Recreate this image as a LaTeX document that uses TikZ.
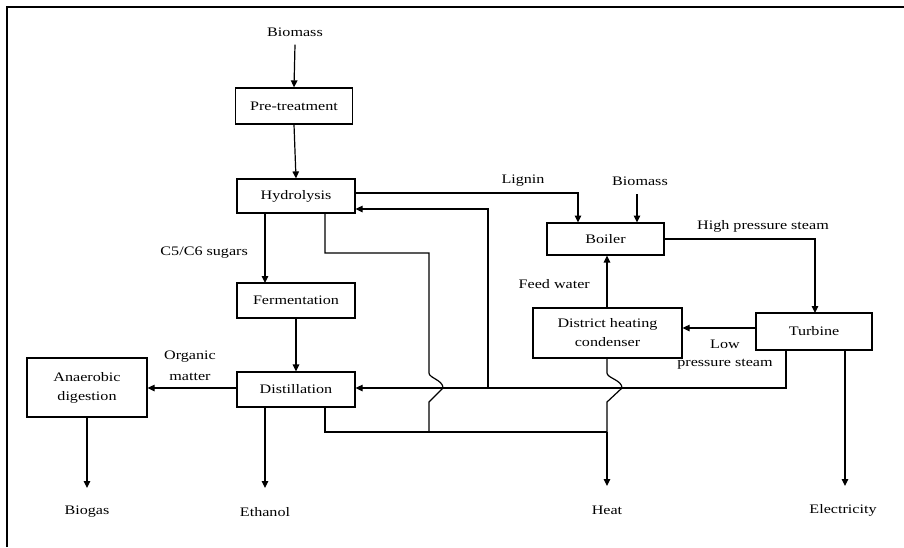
\documentclass[tikz,border=0pt]{standalone}
\usepackage{fontspec}
\usepackage{graphicx}
\setmainfont{Liberation Serif}
\newcommand{\sx}[1]{\scalebox{1.24}[1]{#1}}
\usetikzlibrary{arrows.meta}
\begin{document}
\begin{tikzpicture}[x=1pt,y=-1pt,
  box/.style={draw,line width=1.2pt,inner sep=0pt,align=center,font=\fontsize{13}{19}\selectfont},
  lbl/.style={inner sep=0pt,align=center,font=\fontsize{13}{19}\selectfont},
  flow/.style={line width=1.2pt},
  arr/.style={flow,-{Triangle[length=7pt,width=6.5pt]}}]
\useasboundingbox (0,0) rectangle (904,547);
\draw[line width=1.6pt] (7,547) -- (7,7) -- (904,7);
% nodes
\node[lbl] (bio1) at (295,32) {\sx{Biomass}};
\node[box,minimum width=117pt,minimum height=36pt] (pre) at (294,106) {\sx{Pre-treatment}};
\node[box,minimum width=118pt,minimum height=34pt] (hyd) at (296,196) {\sx{Hydrolysis}};
\node[box,minimum width=118pt,minimum height=35pt] (fer) at (296,300.5) {\sx{Fermentation}};
\node[box,minimum width=118pt,minimum height=35pt] (dis) at (296,389.5) {\sx{Distillation}};
\node[box,minimum width=120pt,minimum height=59pt] (ad) at (87,387.5) {\sx{Anaerobic}\\\sx{digestion}};
\node[box,minimum width=117pt,minimum height=32pt] (boil) at (605.5,239) {\sx{Boiler}};
\node[box,minimum width=116pt,minimum height=37pt] (turb) at (814,331.5) {\sx{Turbine}};
\node[box,minimum width=149pt,minimum height=50pt] (dhc) at (607.5,333) {\sx{District heating}\\\sx{condenser}};
\node[lbl] (bio2) at (640,181) {\sx{Biomass}};
\node[lbl] (biogas) at (87,512) {\sx{Biogas}};
\node[lbl] (eth) at (265,512) {\sx{Ethanol}};
\node[lbl] (heat) at (607,510) {\sx{Heat}};
\node[lbl] (elec) at (843,510) {\sx{Electricity}};
% labels
\node[lbl,anchor=east] (c56) at (248,253) {\sx{C5/C6 sugars}};
\node[lbl] (lig) at (523,181) {\sx{Lignin}};
\node[lbl] (hps) at (763,226) {\sx{High pressure steam}};
\node[lbl,anchor=east] (fw) at (590,284) {\sx{Feed water}};
\node[lbl] (low) at (725,344) {\sx{Low}};
\node[lbl] (lps) at (725,364) {\sx{pressure steam}};
\node[lbl] (om1) at (190,357) {\sx{Organic}};
\node[lbl] (om2) at (190,377) {\sx{matter}};
% coordinates
\coordinate (hb) at (325,213);
\coordinate (db) at (325,406.5);
\coordinate (tb1) at (786,350);
\coordinate (tb2) at (845,350);
% main chain
\draw[arr] (bio1.south) ++(0,8) -- (pre.north);
\draw[arr] (pre.south) -- (hyd.north);
\draw[arr] (265,213) -- (265,283);
\draw[arr] (fer.south) -- (dis.north);
\draw[arr] (dis.west |- 0,388) -- (ad.east |- 0,388);
\draw[arr] (ad.south) -- (87,488);
\draw[arr] (265,406.5) -- (265,488);
% lignin
\draw[arr] (hyd.east |- 0,193) -- (578,193) -- (578,222.5);
\draw[arr] (637,194) -- (637,222.5);
% high pressure
\draw[arr] (boil.east |- 0,239) -- (815,239) -- (815,313);
% low pressure to condenser
\draw[arr] (turb.west |- 0,328) -- (dhc.east |- 0,328);
% feed water
\draw[arr] (607,308) -- (607,255.5);
% turbine to distillation
\draw[arr] (tb1) -- (786,388) -- (dis.east |- 0,388);
% recycle to hydrolysis
\draw[arr] (488,388) -- (488,209) -- (hyd.east |- 0,209);
% hydrolysis residue path with bump
\draw[flow] (hb) -- (325,253) -- (429,253) -- (429,373)
  .. controls (429,378) and (443,380) .. (443,388) -- (429,402) -- (429,432);
% distillation residue
\draw[flow] (db) -- (325,432) -- (607,432);
% heat
\draw[flow] (dhc.south -| 607,0) -- (607,373)
  .. controls (607,378) and (622,380) .. (622,388) -- (607,402) -- (607,432);
\draw[arr] (607,432) -- (607,486);
% electricity
\draw[arr] (tb2) -- (845,486);
\end{tikzpicture}
\end{document}
